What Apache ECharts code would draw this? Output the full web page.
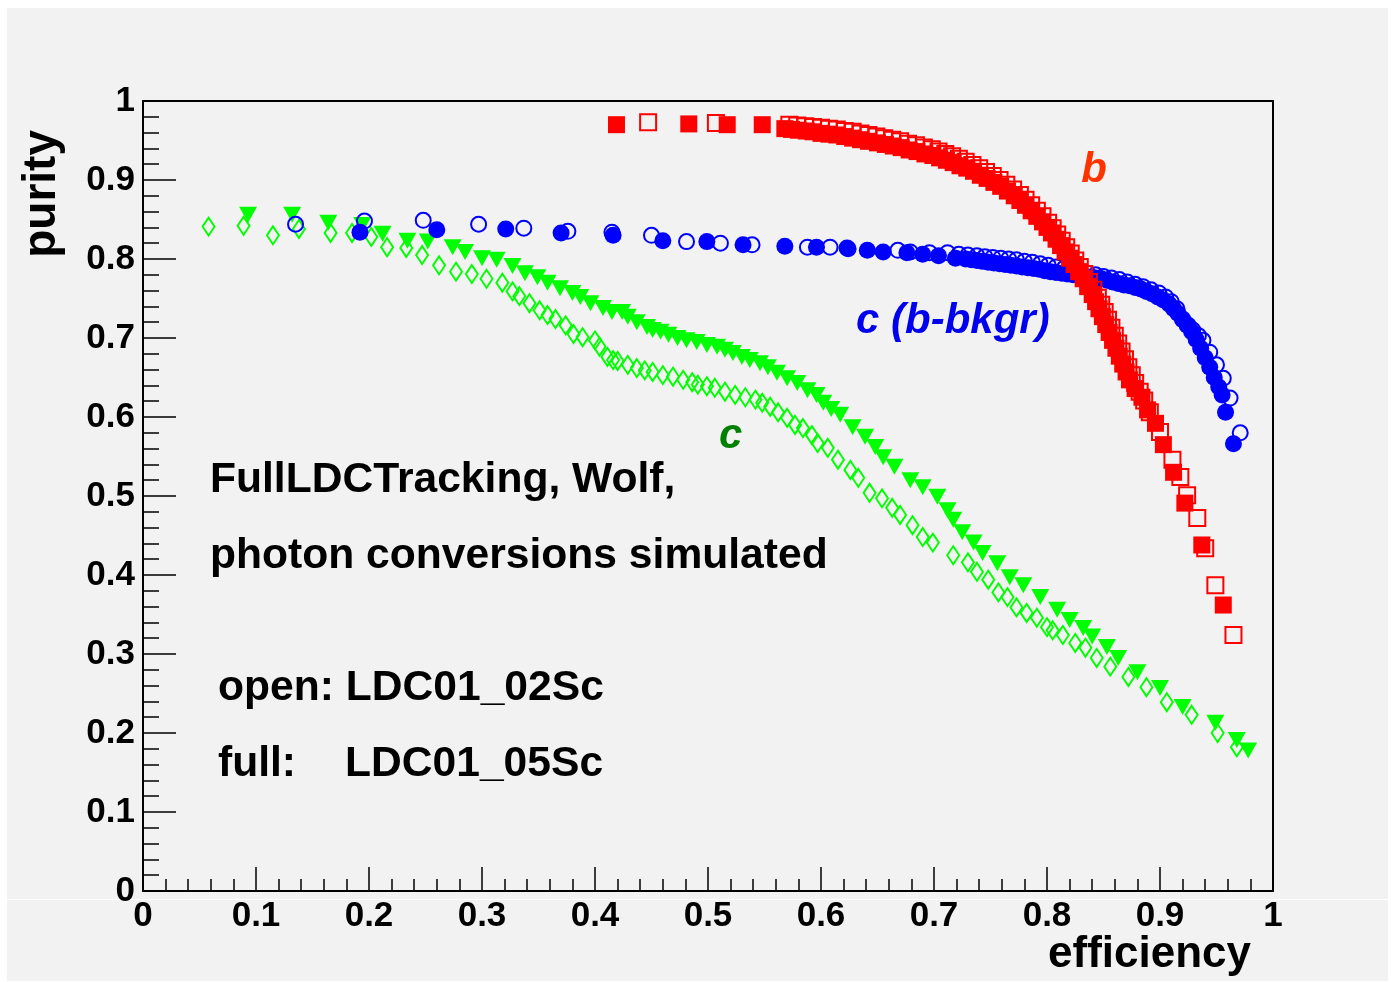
<!DOCTYPE html>
<html>
<head>
<meta charset="utf-8">
<script src="https://cdn.jsdelivr.net/npm/echarts@6/dist/echarts.min.js"></script>
<style>
  body { margin: 0; background: #fff; }
  #wrap { position: relative; width: 1391px; height: 982px; background: #fff; }
  #panel { position: absolute; left: 7px; top: 8px; width: 1381px; height: 973px; background: #f2f2f2; }
  #seam { position: absolute; left: 7px; top: 899px; width: 1381px; height: 1px; background: #fff; }
  #chart { position: absolute; left: 0; top: 0; width: 1391px; height: 982px; }
</style>
</head>
<body>
<div id="wrap">
  <div id="panel"></div>
  <div id="seam"></div>
  <div id="chart"></div>
</div>
<script>
// b-tagging, full detector (filled squares) and open (open squares)
var bFull = [
  [0.419,0.970],[0.483,0.971],[0.517,0.970],[0.548,0.970],
  [0.568,0.965],[0.574,0.964],[0.580,0.963],[0.587,0.962],[0.593,0.961],[0.600,0.959],
  [0.607,0.958],[0.614,0.957],[0.621,0.955],[0.628,0.953],[0.635,0.951],[0.642,0.949],
  [0.650,0.947],[0.657,0.945],[0.664,0.943],[0.671,0.941],[0.678,0.938],[0.685,0.936],
  [0.692,0.933],[0.699,0.931],[0.705,0.928],[0.711,0.925],[0.717,0.922],[0.723,0.918],
  [0.729,0.915],[0.735,0.911],[0.741,0.906],[0.747,0.902],[0.753,0.897],[0.759,0.892],
  [0.765,0.886],[0.771,0.880],[0.776,0.874],[0.781,0.868],[0.786,0.861],[0.791,0.854],
  [0.796,0.847],[0.800,0.840],[0.804,0.833],[0.808,0.825],[0.812,0.817],[0.816,0.809],
  [0.820,0.801],[0.824,0.793],[0.828,0.784],[0.832,0.775],[0.836,0.765],[0.840,0.755],
  [0.843,0.746],[0.846,0.737],[0.849,0.727],[0.852,0.717],[0.855,0.707],[0.858,0.697],
  [0.861,0.687],[0.864,0.677],[0.867,0.667],[0.870,0.657],[0.873,0.647],[0.878,0.636],
  [0.884,0.625],[0.889,0.609],[0.896,0.592],[0.903,0.565],[0.912,0.530],[0.922,0.491],
  [0.937,0.438],[0.956,0.362]
];
var bOpen = [
  [0.447,0.973],[0.507,0.972],
  [0.572,0.970],[0.579,0.969],[0.586,0.968],[0.593,0.967],[0.600,0.966],[0.607,0.965],
  [0.614,0.964],[0.621,0.962],[0.628,0.961],[0.635,0.959],[0.642,0.957],[0.649,0.955],
  [0.656,0.953],[0.663,0.951],[0.670,0.949],[0.677,0.946],[0.684,0.944],[0.691,0.941],
  [0.698,0.939],[0.704,0.936],[0.710,0.933],[0.716,0.930],[0.722,0.927],[0.728,0.923],
  [0.734,0.919],[0.740,0.915],[0.746,0.910],[0.752,0.905],[0.758,0.900],[0.764,0.894],
  [0.770,0.888],[0.776,0.881],[0.781,0.875],[0.786,0.868],[0.791,0.861],[0.796,0.854],
  [0.801,0.846],[0.805,0.839],[0.809,0.831],[0.813,0.823],[0.817,0.815],[0.821,0.807],
  [0.825,0.798],[0.829,0.790],[0.833,0.781],[0.837,0.771],[0.841,0.761],[0.845,0.751],
  [0.848,0.742],[0.851,0.733],[0.854,0.723],[0.857,0.713],[0.860,0.703],[0.863,0.693],
  [0.866,0.683],[0.869,0.673],[0.872,0.663],[0.875,0.653],[0.878,0.643],[0.882,0.632],
  [0.886,0.621],[0.891,0.606],[0.900,0.581],[0.911,0.546],[0.918,0.524],[0.924,0.501],
  [0.933,0.472],[0.940,0.434],[0.949,0.387],[0.965,0.324]
];

// c-tagging with b background
var cbFull = [
  [0.192,0.834],[0.260,0.837],[0.321,0.838],[0.370,0.833],[0.416,0.830],[0.460,0.823],
  [0.499,0.822],[0.531,0.818],[0.568,0.816],[0.596,0.815],[0.623,0.814],[0.641,0.811],
  [0.655,0.809],[0.676,0.808],[0.690,0.806],[0.704,0.804],[0.719,0.801],
  [0.728,0.800],[0.733,0.799],[0.738,0.798],[0.743,0.797],[0.748,0.796],[0.753,0.795],
  [0.758,0.794],[0.763,0.793],[0.768,0.792],[0.773,0.791],[0.778,0.790],[0.783,0.789],
  [0.788,0.788],[0.793,0.787],[0.798,0.785],[0.803,0.784],[0.808,0.783],[0.813,0.782],
  [0.818,0.781],[0.823,0.780],[0.828,0.779],[0.833,0.778],[0.838,0.777],[0.843,0.776],
  [0.848,0.775],[0.853,0.773],[0.858,0.771],[0.863,0.769],[0.868,0.767],[0.873,0.766],
  [0.878,0.764],[0.883,0.762],[0.888,0.759],[0.893,0.756],[0.898,0.752],[0.903,0.748],
  [0.908,0.743],[0.912,0.737],[0.916,0.731],[0.920,0.724],[0.924,0.716],[0.928,0.708],
  [0.932,0.698],[0.936,0.687],[0.940,0.675],[0.944,0.663],[0.948,0.650],[0.952,0.638],
  [0.955,0.628],[0.958,0.606],[0.965,0.566]
];
var cbOpen = [
  [0.135,0.844],[0.196,0.848],[0.248,0.849],[0.297,0.844],[0.337,0.839],[0.376,0.835],
  [0.415,0.834],[0.450,0.830],[0.481,0.822],[0.511,0.820],[0.539,0.818],[0.588,0.815],
  [0.608,0.815],[0.624,0.813],[0.668,0.811],[0.679,0.809],[0.696,0.808],[0.712,0.808],
  [0.722,0.806],[0.730,0.805],[0.738,0.804],[0.745,0.803],[0.752,0.802],[0.759,0.801],
  [0.766,0.800],[0.773,0.799],[0.780,0.797],[0.787,0.796],[0.794,0.794],[0.801,0.792],
  [0.808,0.790],[0.815,0.788],[0.822,0.786],[0.829,0.784],[0.836,0.782],[0.843,0.780],
  [0.850,0.778],[0.857,0.776],[0.864,0.774],[0.871,0.771],[0.878,0.768],[0.885,0.765],
  [0.892,0.761],[0.899,0.757],[0.905,0.752],[0.910,0.746],[0.915,0.737],[0.920,0.723],
  [0.925,0.716],[0.929,0.710],[0.934,0.703],[0.938,0.697],[0.944,0.682],[0.950,0.666],
  [0.956,0.649],[0.962,0.624],[0.971,0.580]
];

// c-tagging
var cFull = [
  [0.093,0.856],[0.132,0.856],[0.164,0.846],[0.194,0.843],[0.212,0.832],[0.234,0.823],
  [0.252,0.822],[0.274,0.815],[0.285,0.809],[0.300,0.801],[0.313,0.799],[0.327,0.791],
  [0.338,0.782],[0.349,0.777],[0.358,0.770],[0.369,0.763],[0.380,0.757],[0.387,0.752],
  [0.396,0.744],[0.407,0.738],[0.415,0.733],[0.424,0.733],[0.429,0.727],[0.437,0.720],
  [0.446,0.714],[0.451,0.710],[0.458,0.708],[0.465,0.704],[0.473,0.700],[0.481,0.697],
  [0.490,0.695],[0.499,0.691],[0.508,0.689],[0.515,0.685],[0.522,0.681],[0.530,0.676],
  [0.537,0.672],[0.546,0.668],[0.553,0.663],[0.561,0.656],[0.570,0.649],[0.579,0.643],
  [0.588,0.634],[0.596,0.628],[0.602,0.618],[0.609,0.610],[0.617,0.603],[0.628,0.587],
  [0.639,0.575],[0.648,0.562],[0.655,0.549],[0.665,0.537],[0.679,0.520],[0.690,0.511],
  [0.703,0.499],[0.712,0.482],[0.717,0.470],[0.725,0.454],[0.735,0.441],[0.743,0.428],
  [0.756,0.415],[0.767,0.397],[0.779,0.387],[0.794,0.372],[0.809,0.356],[0.820,0.343],
  [0.832,0.333],[0.840,0.322],[0.853,0.309],[0.863,0.295],[0.880,0.277],[0.900,0.257],
  [0.920,0.233],[0.949,0.213],[0.968,0.191],[0.978,0.178]
];
var cOpen = [
  [0.058,0.841],[0.089,0.842],[0.115,0.830],[0.138,0.838],[0.166,0.833],[0.185,0.833],
  [0.202,0.828],[0.216,0.815],[0.233,0.814],[0.247,0.805],[0.262,0.792],[0.277,0.784],
  [0.291,0.781],[0.304,0.775],[0.318,0.770],[0.327,0.759],[0.333,0.753],[0.342,0.744],
  [0.351,0.735],[0.358,0.729],[0.365,0.724],[0.374,0.716],[0.381,0.705],[0.389,0.701],
  [0.400,0.697],[0.404,0.689],[0.411,0.676],[0.416,0.672],[0.420,0.671],[0.429,0.666],
  [0.437,0.662],[0.444,0.659],[0.451,0.657],[0.460,0.653],[0.469,0.651],[0.478,0.647],
  [0.486,0.644],[0.491,0.641],[0.499,0.639],[0.506,0.637],[0.515,0.632],[0.524,0.628],
  [0.533,0.625],[0.542,0.622],[0.548,0.618],[0.555,0.613],[0.562,0.606],[0.570,0.599],
  [0.577,0.590],[0.584,0.586],[0.592,0.577],[0.597,0.567],[0.606,0.561],[0.615,0.546],
  [0.626,0.533],[0.633,0.523],[0.643,0.504],[0.654,0.497],[0.663,0.485],[0.670,0.476],
  [0.681,0.463],[0.690,0.448],[0.699,0.441],[0.717,0.425],[0.730,0.416],[0.738,0.404],
  [0.748,0.394],[0.757,0.378],[0.765,0.372],[0.773,0.359],[0.782,0.352],[0.791,0.346],
  [0.800,0.334],[0.805,0.330],[0.814,0.324],[0.825,0.314],[0.834,0.308],[0.844,0.295],
  [0.856,0.284],[0.872,0.271],[0.888,0.258],[0.906,0.239],[0.928,0.223],[0.951,0.200],
  [0.968,0.182]
];

var FONT = 'Liberation Sans, Arial, Helvetica, sans-serif';
var chart = echarts.init(document.getElementById('chart'), null, { renderer: 'canvas' });

function axisCommon(tickLen, minorLen, labelMargin) {
  return {
    type: 'value',
    min: 0,
    max: 1,
    interval: 0.1,
    axisLine: { show: true, onZero: false, lineStyle: { color: '#000', width: 2 } },
    axisTick: { show: true, inside: true, length: tickLen, lineStyle: { color: '#000', width: 1.5 } },
    minorTick: { show: true, splitNumber: 5, length: minorLen, lineStyle: { color: '#000', width: 1.5 } },
    splitLine: { show: false },
    axisLabel: {
      color: '#000', fontFamily: FONT, fontWeight: 'bold', fontSize: 35,
      margin: labelMargin, showMinLabel: true, showMaxLabel: true
    }
  };
}

function txt(x, y, s, color, size, italic, align) {
  return {
    type: 'text', x: x, y: y, z: 100,
    style: {
      text: s, fill: color, fontFamily: FONT, fontWeight: 'bold',
      fontStyle: italic ? 'italic' : 'normal', fontSize: size,
      textAlign: align || 'left', textVerticalAlign: 'middle'
    }
  };
}

var option = {
  animation: false,
  backgroundColor: 'transparent',
  grid: {
    left: 143, top: 101, width: 1130, height: 790,
    show: true, borderColor: '#000', borderWidth: 2, backgroundColor: 'transparent'
  },
  xAxis: axisCommon(24, 12, 8),
  yAxis: axisCommon(33, 16, 8),
  graphic: [
    {
      type: 'text', x: 42, y: 130, rotation: Math.PI / 2, z: 100,
      style: { text: 'purity', fill: '#000', fontFamily: FONT, fontWeight: 'bold', fontSize: 46,
               textAlign: 'right', textVerticalAlign: 'middle' }
    },
    txt(1251, 955, 'efficiency', '#000', 44, false, 'right'),
    txt(1094, 170, 'b', '#ff3300', 42, true, 'center'),
    txt(856, 321, 'c (b-bkgr)', '#0000ee', 42, true),
    txt(719, 436, 'c', '#008000', 42, true),
    txt(210, 480, 'FullLDCTracking, Wolf,', '#000', 42.6, false),
    txt(210, 556, 'photon conversions simulated', '#000', 42.6, false),
    txt(218, 688, 'open: LDC01_02Sc', '#000', 42.6, false),
    txt(218, 764, 'full:', '#000', 42.6, false),
    txt(345, 764, 'LDC01_05Sc', '#000', 42.6, false)
  ],
  series: [
    {
      name: 'c open', type: 'scatter', data: cOpen, symbol: 'diamond', symbolSize: [12, 18],
      itemStyle: { color: 'rgba(0,0,0,0)', borderColor: '#00ff00', borderWidth: 2, opacity: 1 }
    },
    {
      name: 'c full', type: 'scatter', data: cFull, symbol: 'triangle', symbolRotate: 180,
      symbolSize: [18, 16], itemStyle: { color: '#00ff00', opacity: 1 }
    },
    {
      name: 'c(b) open', type: 'scatter', data: cbOpen, symbol: 'circle', symbolSize: 15,
      itemStyle: { color: 'rgba(0,0,0,0)', borderColor: '#0000ff', borderWidth: 2, opacity: 1 }
    },
    {
      name: 'c(b) full', type: 'scatter', data: cbFull, symbol: 'circle', symbolSize: 17,
      itemStyle: { color: '#0000ff', opacity: 1 }
    },
    {
      name: 'b open', type: 'scatter', data: bOpen, symbol: 'rect', symbolSize: 16,
      itemStyle: { color: 'rgba(0,0,0,0)', borderColor: '#ff0000', borderWidth: 2, opacity: 1 }
    },
    {
      name: 'b full', type: 'scatter', data: bFull, symbol: 'rect', symbolSize: 17,
      itemStyle: { color: '#ff0000', opacity: 1 }
    }
  ]
};
chart.setOption(option);
</script>
</body>
</html>
